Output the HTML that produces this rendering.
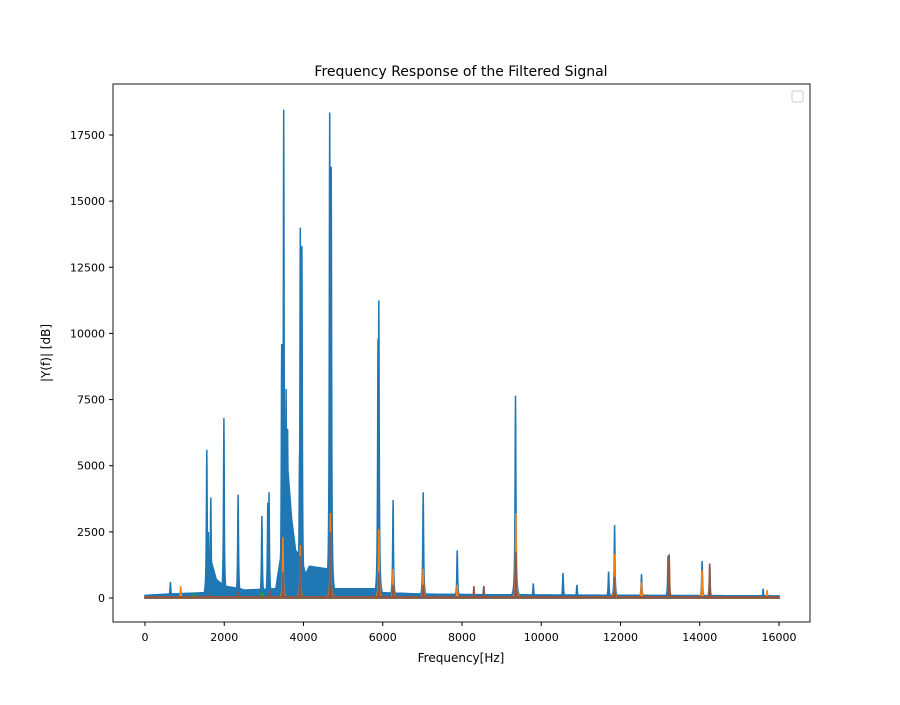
<!DOCTYPE html>
<html><head><meta charset="utf-8"><style>
body{margin:0;background:#fff;font-family:"Liberation Sans","DejaVu Sans",sans-serif}
text{font-family:"DejaVu Sans","Liberation Sans",sans-serif}
</style></head><body>
<svg id="c" width="900" height="700" xmlns="http://www.w3.org/2000/svg">
<rect width="900" height="700" fill="#fff"/>
<text x="461" y="76" font-size="14" text-anchor="middle">Frequency Response of the Filtered Signal</text>
<g id="plot"></g>
<rect x="113" y="84" width="697" height="538" fill="none" stroke="#000" stroke-width="0.9"/>
<g id="ticks"></g>
<text x="461" y="662" font-size="12" text-anchor="middle">Frequency[Hz]</text>
<text transform="translate(50,353) rotate(-90)" font-size="12" text-anchor="middle">|Y(f)| [dB]</text>
<rect x="792" y="91" width="11" height="11" rx="2" fill="#fff" stroke="#ccc"/>
</svg>
<script>
const xTicks=[0,2000,4000,6000,8000,10000,12000,14000,16000];
const yTicks=[0,2500,5000,7500,10000,12500,15000,17500];
const baseFreq=[0,600,1500,1550,1650,1800,2000,2400,2500,3300,3420,3500,3600,3700,3800,3950,4050,4150,4600,4750,5800,6000,7000,9000,9500,16000];
const baseVal=[100,150,200,900,1500,700,450,350,300,350,1500,4500,5000,3000,1800,1500,900,1200,1100,350,350,200,150,120,120,80];
const bluePeakF=[640,1560,1600,1660,1990,2350,2950,3100,3130,3450,3500,3560,3600,3900,3920,3960,4660,4700,5880,5900,6260,7020,7880,8550,9350,9800,10550,10900,11700,11850,12530,13200,14060,14250,15600];
const bluePeakV=[600,5600,2500,3800,6800,3900,3100,3600,4000,9600,18450,7900,6400,5400,14000,13300,18350,16300,9800,11250,3700,4000,1800,450,7650,550,950,500,1000,2750,900,1600,1400,1300,350];
const orangePeakF=[900,3480,3920,4680,5900,6260,7020,7880,8300,9360,11850,12530,13230,14060,14250,15700];
const orangePeakV=[450,2300,2000,3200,2600,1100,1100,500,400,3200,1650,600,1600,1050,1200,300];
const brownPeakF=[1600,2350,3150,3480,3920,4680,5900,6260,7020,8300,8550,9360,11850,13230,14250];
const brownPeakV=[150,250,300,1000,1600,2500,1000,500,500,450,450,1750,800,1650,1300];
const greenPeakF=[1250,2950];
const greenPeakV=[150,200];
const X=f=>145+f*(779-145)/16000;
const Y=v=>598-v*(598-135)/17500;
const NS="http://www.w3.org/2000/svg";
function interp(fa,va,f){for(let i=1;i<fa.length;i++){if(f<=fa[i]){const t=(f-fa[i-1])/(fa[i]-fa[i-1]);return va[i-1]+t*(va[i]-va[i-1]);}}return va[va.length-1];}
function peaks(pf,pv,f,w){let m=0;for(let i=0;i<pf.length;i++){const d=(f-pf[i])/w;const v=pv[i]/(1+d*d);if(v>m)m=v;}return m;}
function build(pf,pv,w,useBase,floor){let d="M"+X(0)+","+Y(0);for(let f=0;f<=16000;f+=5){let v=peaks(pf,pv,f,w);if(useBase)v=Math.max(v,interp(baseFreq,baseVal,f));v=Math.max(v,floor);d+="L"+X(f).toFixed(1)+","+Y(v).toFixed(1);}d+="L"+X(16000)+","+Y(0)+"Z";return d;}
const plot=document.getElementById('plot');
function addPath(d,color,name){const p=document.createElementNS(NS,'path');p.setAttribute('d',d);p.setAttribute('fill',color);p.setAttribute('stroke',color);p.setAttribute('stroke-width','1.5');


plot.appendChild(p);}
addPath(build(bluePeakF,bluePeakV,12,true,0),'#1f77b4','series-blue');
addPath(build(orangePeakF,orangePeakV,10,false,40),'#ff7f0e','series-orange');
addPath(build(greenPeakF,greenPeakV,30,false,20),'#2ca02c','series-green');
addPath(build(brownPeakF,brownPeakV,8,false,40),'#8c564b','series-brown');
const tg=document.getElementById('ticks');
xTicks.forEach(t=>{const l=document.createElementNS(NS,'line');l.setAttribute('x1',X(t));l.setAttribute('x2',X(t));l.setAttribute('y1',622);l.setAttribute('y2',626);l.setAttribute('stroke','#000');


tg.appendChild(l);const s=document.createElementNS(NS,'text');s.setAttribute('x',X(t));s.setAttribute('y',641);s.setAttribute('font-size','11');s.setAttribute('text-anchor','middle');s.textContent=t;


tg.appendChild(s);});
yTicks.forEach(t=>{const l=document.createElementNS(NS,'line');l.setAttribute('x1',109);l.setAttribute('x2',113);l.setAttribute('y1',Y(t));l.setAttribute('y2',Y(t));l.setAttribute('stroke','#000');


tg.appendChild(l);const s=document.createElementNS(NS,'text');s.setAttribute('x',105);s.setAttribute('y',Y(t)+4);s.setAttribute('font-size','11');s.setAttribute('text-anchor','end');s.textContent=t;


tg.appendChild(s);});
</script>
</body></html>
